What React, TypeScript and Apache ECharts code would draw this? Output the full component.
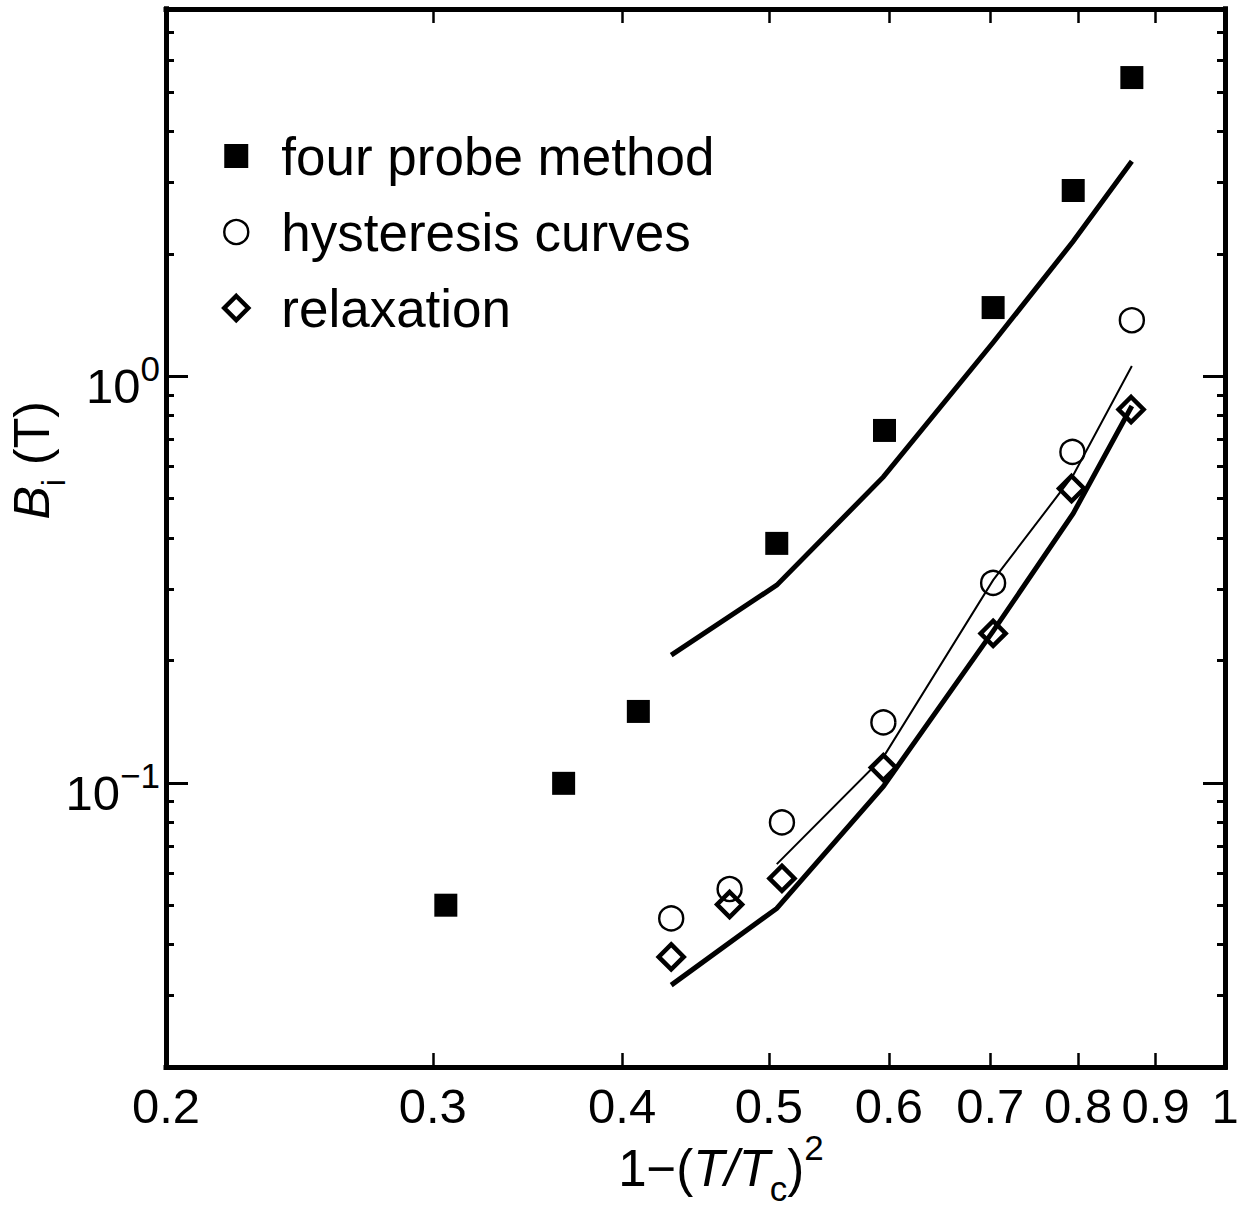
import React, { useEffect, useRef } from 'react';
import * as echarts from 'echarts';

// ---- data ----
const fourProbeX = [0.306, 0.366, 0.41, 0.506, 0.596, 0.703, 0.794, 0.868];
const fourProbeY = [0.05, 0.0997, 0.1498, 0.388, 0.7355, 1.475, 2.862, 5.426];

const hysteresisX = [0.431, 0.471, 0.51, 0.595, 0.703, 0.793, 0.868];
const hysteresisY = [0.0464, 0.0548, 0.0799, 0.1408, 0.3102, 0.6514, 1.373];

const relaxationX = [0.431, 0.471, 0.51, 0.595, 0.703, 0.792, 0.867];
const relaxationY = [0.0373, 0.0502, 0.0582, 0.109, 0.233, 0.5295, 0.8282];

const fitFourProbeX = [0.431, 0.506, 0.595, 0.703, 0.794, 0.868];
const fitFourProbeY = [0.2061, 0.3063, 0.5652, 1.21, 2.147, 3.379];

const fitRelaxationX = [0.431, 0.506, 0.595, 0.703, 0.794, 0.868];
const fitRelaxationY = [0.0318, 0.0491, 0.098, 0.236, 0.4597, 0.845];

const fitHysteresisX = [0.506, 0.595, 0.703, 0.794, 0.868];
const fitHysteresisY = [0.0631, 0.1157, 0.315, 0.5708, 1.06];

// ---- axes ----
const xMin = 0.2;
const xMax = 1;
const yMin = 0.02;
const yMax = 8;
const xLabelValues = [0.2, 0.3, 0.4, 0.5, 0.6, 0.7, 0.8, 0.9, 1];
const xLabelTexts = ['0.2', '0.3', '0.4', '0.5', '0.6', '0.7', '0.8', '0.9', '1'];
const xTickValues = [0.3, 0.4, 0.5, 0.6, 0.7, 0.8, 0.9];
const yMajorValues = [0.1, 1];
const yMajorExponents = ['\u22121', '0'];
const yMinorValues = [
  0.03, 0.04, 0.05, 0.06, 0.07, 0.08, 0.09,
  0.2, 0.3, 0.4, 0.5, 0.6, 0.7, 0.8, 0.9,
  2, 3, 4, 5, 6, 7,
];

const seriesNames = ['four probe method', 'hysteresis curves', 'relaxation'];

const FONT = '"Liberation Sans", Arial, Helvetica, sans-serif';

function pairs(xs: number[], ys: number[]) {
  return xs.map((x, i) => [x, ys[i]]);
}

function findIndex(values: number[], v: number) {
  return values.findIndex((t) => Math.abs(t - v) / t < 1e-6);
}

export default function App() {
  const ref = useRef<HTMLDivElement>(null);

  useEffect(() => {
    const chart = echarts.init(ref.current!, null, { renderer: 'svg' });

    const frameLine = { show: true, onZero: false, lineStyle: { color: '#000', width: 5, cap: 'square' } };

    const xAxisBase = (position: string, withLabels: boolean) => ({
      type: 'log',
      logBase: 10,
      min: xMin,
      max: xMax,
      position,
      splitLine: { show: false },
      minorTick: { show: false },
      axisLine: frameLine,
      axisTick: {
        show: true,
        inside: true,
        length: 14,
        customValues: xTickValues,
        lineStyle: { color: '#000', width: 2.5 },
      },
      axisLabel: withLabels
        ? {
            show: true,
            customValues: xLabelValues,
            margin: 14,
            fontSize: 49,
            fontFamily: FONT,
            color: '#000',
            formatter: (v: number) => {
              const i = findIndex(xLabelValues, v);
              return i >= 0 ? xLabelTexts[i] : '';
            },
          }
        : { show: false },
    });

    const yAxisBase = (position: string, major: boolean, withLabels: boolean) => ({
      type: 'log',
      logBase: 10,
      min: yMin,
      max: yMax,
      position,
      splitLine: { show: false },
      minorTick: { show: false },
      axisLine: frameLine,
      axisTick: {
        show: true,
        inside: true,
        length: major ? 22 : 8,
        customValues: major ? yMajorValues : yMinorValues,
        lineStyle: { color: '#000', width: 3 },
      },
      axisLabel: withLabels
        ? {
            show: true,
            customValues: yMajorValues,
            margin: 6,
            color: '#000',
            fontFamily: FONT,
            formatter: (v: number) => {
              const i = findIndex(yMajorValues, v);
              return i >= 0 ? `{b|10}{s|${yMajorExponents[i]}}` : '';
            },
            rich: {
              b: { fontSize: 49, fontFamily: FONT, color: '#000', lineHeight: 50, padding: [20, 0, 0, 0] },
              s: { fontSize: 35, fontFamily: FONT, color: '#000', lineHeight: 45, verticalAlign: 'top' },
            },
          }
        : { show: false },
    });

    const option: any = {
      animation: false,
      backgroundColor: '#fff',
      grid: { left: 166, right: 27, top: 9, bottom: 140, containLabel: false, outerBoundsMode: 'none' },
      legend: {
        show: true,
        orient: 'vertical',
        left: 222,
        top: 128,
        padding: 0,
        itemWidth: 24,
        itemHeight: 24,
        itemGap: 20,
        data: [
          { name: seriesNames[0], itemStyle: { color: '#000', opacity: 1 } },
          { name: seriesNames[1], itemStyle: { color: 'rgba(255,255,255,0)', borderColor: '#000', borderWidth: 2.4, opacity: 1 } },
          { name: seriesNames[2], itemStyle: { color: 'rgba(255,255,255,0)', borderColor: '#000', borderWidth: 4.5, opacity: 1 } },
        ],
        textStyle: { fontSize: 53, fontFamily: FONT, color: '#000', lineHeight: 56, padding: [0, 0, 0, 28] },
      },
      xAxis: [xAxisBase('bottom', true), xAxisBase('top', false)],
      yAxis: [
        yAxisBase('left', true, true),
        yAxisBase('left', false, false),
        yAxisBase('right', true, false),
        yAxisBase('right', false, false),
      ],
      graphic: [
        {
          type: 'text',
          x: 38.25,
          y: 460,
          rotation: Math.PI / 2,
          style: {
            text: '{bi|B}{sub|i}{n| (T)}{pad| }',
            align: 'center',
            verticalAlign: 'middle',
            fill: '#000',
            rich: {
              bi: { fontSize: 50, fontFamily: FONT, fontStyle: 'italic', fill: '#000', lineHeight: 56, verticalAlign: 'top' },
              sub: { fontSize: 33, fontFamily: FONT, fill: '#000', lineHeight: 37, verticalAlign: 'bottom' },
              n: { fontSize: 50, fontFamily: FONT, fill: '#000', lineHeight: 56, verticalAlign: 'top' },
              pad: { fontSize: 2, fontFamily: FONT, fill: '#000', lineHeight: 63.5 },
            },
          },
        },
        {
          type: 'text',
          x: 721,
          y: 1168,
          style: {
            text: '{n|1\u2212(}{i|T/T}{sub|c}{n|)}{sup|2}',
            align: 'center',
            verticalAlign: 'middle',
            fill: '#000',
            rich: {
              n: { fontSize: 51, fontFamily: FONT, fill: '#000', lineHeight: 76 },
              i: { fontSize: 51, fontFamily: FONT, fontStyle: 'italic', fill: '#000', lineHeight: 76 },
              sub: { fontSize: 35, fontFamily: FONT, fill: '#000', lineHeight: 48.6, verticalAlign: 'bottom' },
              sup: { fontSize: 35, fontFamily: FONT, fill: '#000', lineHeight: 30, verticalAlign: 'top' },
            },
          },
        },
      ],
      series: [
        {
          name: 'fit four probe',
          type: 'line',
          data: pairs(fitFourProbeX, fitFourProbeY),
          showSymbol: false,
          symbol: 'none',
          lineStyle: { color: '#000', width: 5, cap: 'butt', join: 'miter' },
          silent: true,
          z: 2,
        },
        {
          name: 'fit relaxation',
          type: 'line',
          data: pairs(fitRelaxationX, fitRelaxationY),
          showSymbol: false,
          symbol: 'none',
          lineStyle: { color: '#000', width: 5, cap: 'butt', join: 'miter' },
          silent: true,
          z: 2,
        },
        {
          name: 'fit hysteresis',
          type: 'line',
          data: pairs(fitHysteresisX, fitHysteresisY),
          showSymbol: false,
          symbol: 'none',
          lineStyle: { color: '#000', width: 2, cap: 'butt', join: 'miter' },
          silent: true,
          z: 2,
        },
        {
          name: seriesNames[0],
          type: 'scatter',
          data: pairs(fourProbeX, fourProbeY),
          symbol: 'rect',
          symbolSize: 23,
          itemStyle: { color: '#000', opacity: 1 },
          z: 3,
        },
        {
          name: seriesNames[1],
          type: 'scatter',
          data: pairs(hysteresisX, hysteresisY),
          symbol: 'circle',
          symbolSize: 24,
          itemStyle: { color: 'rgba(255,255,255,0)', borderColor: '#000', borderWidth: 2.4, opacity: 1 },
          z: 3,
        },
        {
          name: seriesNames[2],
          type: 'scatter',
          data: pairs(relaxationX, relaxationY),
          symbol: 'diamond',
          symbolSize: 25,
          itemStyle: { color: 'rgba(255,255,255,0)', borderColor: '#000', borderWidth: 4.5, opacity: 1 },
          z: 3,
        },
      ],
    };

    chart.setOption(option);
    return () => chart.dispose();
  }, []);

  return (
    <div
      ref={ref}
      style={{ position: 'absolute', left: 0, top: 0, width: 1252, height: 1207, background: '#fff' }}
    />
  );
}
